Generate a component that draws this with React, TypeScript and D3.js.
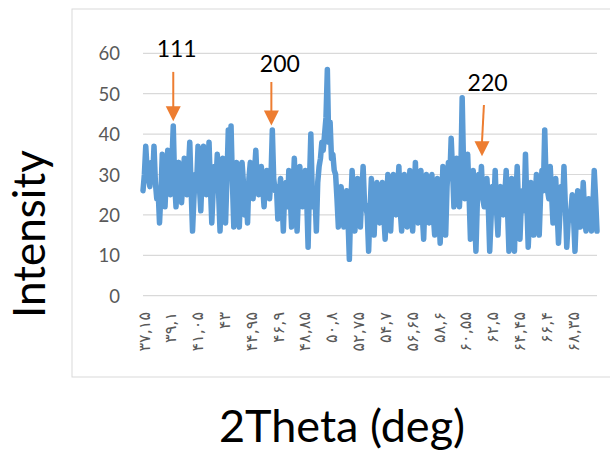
import React from 'react';
import * as d3 from 'd3';

const startTheta = 37.15;
const stepTheta = 0.1;
const intensity = [
  26,30, 37,31, 29,27, 33,29, 37,28, 24,26, 18,25, 35,27, 22,30, 36,27, 25,33, 42,28, 22,29, 33,26, 23,28, 34,27, 25,31, 38,26, 16,24, 30,28,
  37,27, 21,30, 37,28, 25,30, 38,27, 18,26, 32,28, 35,25, 16,27, 34,26, 18,29, 41,30, 42,28, 17,26, 33,24, 17,27, 33,28, 20,25, 18,29, 33,27,
  24,30, 36,28, 25,30, 32,27, 22,29, 31,26, 24,29, 41,29, 26,27, 19,25, 29,24, 16,26, 28,22, 31,25, 17,26, 34,23, 16,25, 32,24, 22,28, 31,24,
  12,28, 40,26, 22,25, 16,28, 32,34, 38,36, 40,44, 56,38, 43,34, 35,31, 30,24, 17,22, 27,21, 17,24, 26,19, 9,22, 31,24, 16,21, 29,22, 17,25,
  32,23, 22,20, 11,21, 29,22, 15,24, 28,21, 18,25, 28,20, 14,23, 30,21, 16,24, 30,22, 20,26, 32,21, 16,23, 30,20, 17,24, 31,21, 16,24, 33,22,
  18,25, 31,20, 14,24, 30,21, 18,25, 30,20, 15,23, 29,21, 13,22, 32,24, 15,27, 33,29, 39,31, 22,28, 34,26, 22,30, 49,32, 24,28, 35,25, 14,22,
  31,20, 11,23, 30,26, 32,24, 22,26, 29,22, 11,19, 27,22, 31,21, 15,24, 27,22, 20,25, 31,21, 11,22, 29,20, 11,24, 32,22, 14,23, 26,21, 35,23,
  12,20, 28,22, 15,24, 30,21, 15,25, 31,26, 41,28, 26,24, 32,25, 18,23, 29,21, 13,20, 27,23, 32,22, 12,18, 20,21, 25,19, 11,20, 26,22, 17,21,
  28,20, 16,21, 24,20, 16,22, 31,24, 16,
];
const xTickValues = [37.15, 39.1, 41.05, 43, 44.95, 46.9, 48.85, 50.8, 52.75, 54.7, 56.65, 58.6, 60.55, 62.5, 64.45, 66.4, 68.35];
const xTickLabels = ['۳۷,۱۵', '۳۹,۱', '۴۱,۰۵', '۴۳', '۴۴,۹۵', '۴۶,۹', '۴۸,۸۵', '۵۰,۸', '۵۲,۷۵', '۵۴,۷', '۵۶,۶۵', '۵۸,۶', '۶۰,۵۵', '۶۲,۵', '۶۴,۴۵', '۶۶,۴', '۶۸,۳۵'];
const yTicks = [0, 10, 20, 30, 40, 50, 60];
const peakLabels = ['111', '200', '220'];
const peakLabelTheta = [39.6, 47.1, 62.2];
const peakTextY = [59.1, 55.4, 50.7];
const arrowTopTheta = [39.35, 46.48, 61.93];
const arrowTipTheta = [39.35, 46.48, 61.79];
const arrowTopY = [55.4, 52.9, 47.2];
const arrowTipY = [43.2, 42.1, 34.5];

export default function App() {
  const W = 610, H = 454;
  const x = d3.scaleLinear().domain([startTheta, startTheta + stepTheta * (intensity.length - 1)]).range([143, 597]);
  const y = d3.scaleLinear().domain([0, 60]).range([295.7, 53.3]);
  const pts = intensity.map((v, i) => [startTheta + i * stepTheta, v] as [number, number]);
  const line = d3.line<[number, number]>().x(d => x(d[0])).y(d => y(d[1]));
  const font = 'Lato, "Open Sans", sans-serif';
  const blue = '#5B9BD5';
  const orange = '#ED7D31';
  return (
    <svg width={W} height={H} style={{ position: 'absolute', left: 0, top: 0, background: '#fff' }}>
      <rect x={72} y={9} width={560} height={368} fill="#fff" stroke="#D9D9D9" strokeWidth={1} />
      {yTicks.map(t => (
        <g key={t}>
          <line x1={143} x2={597} y1={y(t)} y2={y(t)} stroke="#D9D9D9" strokeWidth={1.2} />
          <text x={120} y={y(t)} textAnchor="end" dominantBaseline="central" fontFamily={font} fontSize={18.5} fill="#595959">{t}</text>
        </g>
      ))}
      {xTickValues.map((v, i) => (
        <text key={i} transform={`translate(${x(v) + 1},312) rotate(-90)`} textAnchor="end" dominantBaseline="central"
          fontFamily='"DejaVu Sans", sans-serif' fontSize={16} letterSpacing={2.5} fill="#595959">{xTickLabels[i]}</text>
      ))}
      <path d={line(pts) || ''} fill="none" stroke={blue} strokeWidth={5.5} strokeLinejoin="round" strokeLinecap="round" />
      {peakLabels.map((lab, i) => {
        const x1 = x(arrowTopTheta[i]);
        const x2 = x(arrowTipTheta[i]);
        const top = y(arrowTopY[i]);
        const tip = y(arrowTipY[i]);
        return (
          <g key={lab}>
            <line x1={x1} x2={x2} y1={top} y2={tip - 14} stroke={orange} strokeWidth={2} />
            <path d={`M${x2 - 7.5},${tip - 15} L${x2 + 7.5},${tip - 15} L${x2},${tip} Z`} fill={orange} />
            <text x={x(peakLabelTheta[i])} y={y(peakTextY[i])} textAnchor="middle" fontFamily={font} fontSize={23} fill="#000">{lab}</text>
          </g>
        );
      })}
      <text transform="translate(45,234) rotate(-90)" textAnchor="middle" fontFamily={font} fontSize={44} fill="#000">Intensity</text>
      <text x={342} y={442} textAnchor="middle" fontFamily={font} fontSize={45} fill="#000">2Theta (deg)</text>
    </svg>
  );
}
